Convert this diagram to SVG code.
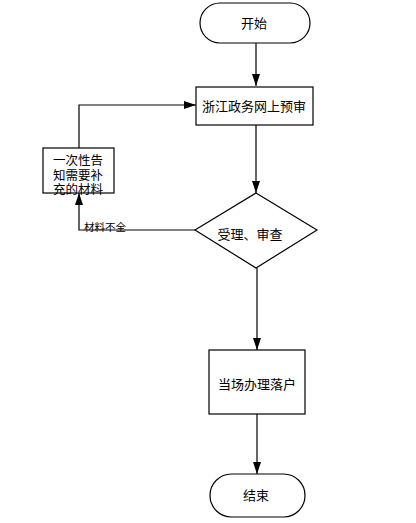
<svg xmlns="http://www.w3.org/2000/svg" width="416" height="523" viewBox="0 0 416 523">
<style>
.n{fill:#fff;stroke:#000;stroke-width:1.2}
.t{font-family:"Liberation Sans","Noto Sans CJK SC",sans-serif;font-size:13px;fill:#000;text-anchor:middle}
.s{font-size:12.5px}
.l{font-family:"Liberation Sans","Noto Sans CJK SC",sans-serif;font-size:10.5px;fill:#000}
.c{fill:none;stroke:#000;stroke-width:1.2}
</style>
<defs>
<marker id="a" viewBox="0 0 12 8" refX="12" refY="4" markerWidth="12" markerHeight="8" markerUnits="userSpaceOnUse" orient="auto">
<path d="M0,0 L12,4 L0,8 Z" fill="#000"/>
</marker>
</defs>
<rect width="416" height="523" fill="#fff"/>
<g id="connectors">
<path class="c" d="M256,43 V86" marker-end="url(#a)"/>
<path class="c" d="M256,125 V193" marker-end="url(#a)"/>
<path class="c" d="M195,230 H79 V193" marker-end="url(#a)"/>
<path class="c" d="M79,148 V105 H196" marker-end="url(#a)"/>
<path class="c" d="M257,268 V350" marker-end="url(#a)"/>
<path class="c" d="M257,414 V474" marker-end="url(#a)"/>
<text class="l" x="84" y="231">材料不全</text>
</g>
<g id="start">
<rect class="n" x="200" y="3" width="110" height="40" rx="20" ry="20"/>
<text class="t" x="254" y="28">开始</text>
</g>
<g id="precheck">
<rect class="n" x="196" y="87" width="117" height="38"/>
<text class="t" x="254" y="111">浙江政务网上预审</text>
</g>
<g id="notify">
<rect class="n" x="43" y="148" width="71" height="45"/>
<text class="t s" x="78" y="165">一次性告</text>
<text class="t s" x="78" y="180">知需要补</text>
<text class="t s" x="78" y="194">充的材料</text>
</g>
<g id="review">
<path class="n" d="M256,193 L317,230 L256,268 L195,230 Z"/>
<text class="t" x="250" y="239">受理、审查</text>
</g>
<g id="handle">
<rect class="n" x="209" y="350" width="96" height="64"/>
<text class="t" x="257" y="389">当场办理落户</text>
</g>
<g id="end">
<rect class="n" x="210" y="474" width="95" height="43" rx="21.5" ry="21.5"/>
<text class="t" x="256" y="500">结束</text>
</g>
</svg>
